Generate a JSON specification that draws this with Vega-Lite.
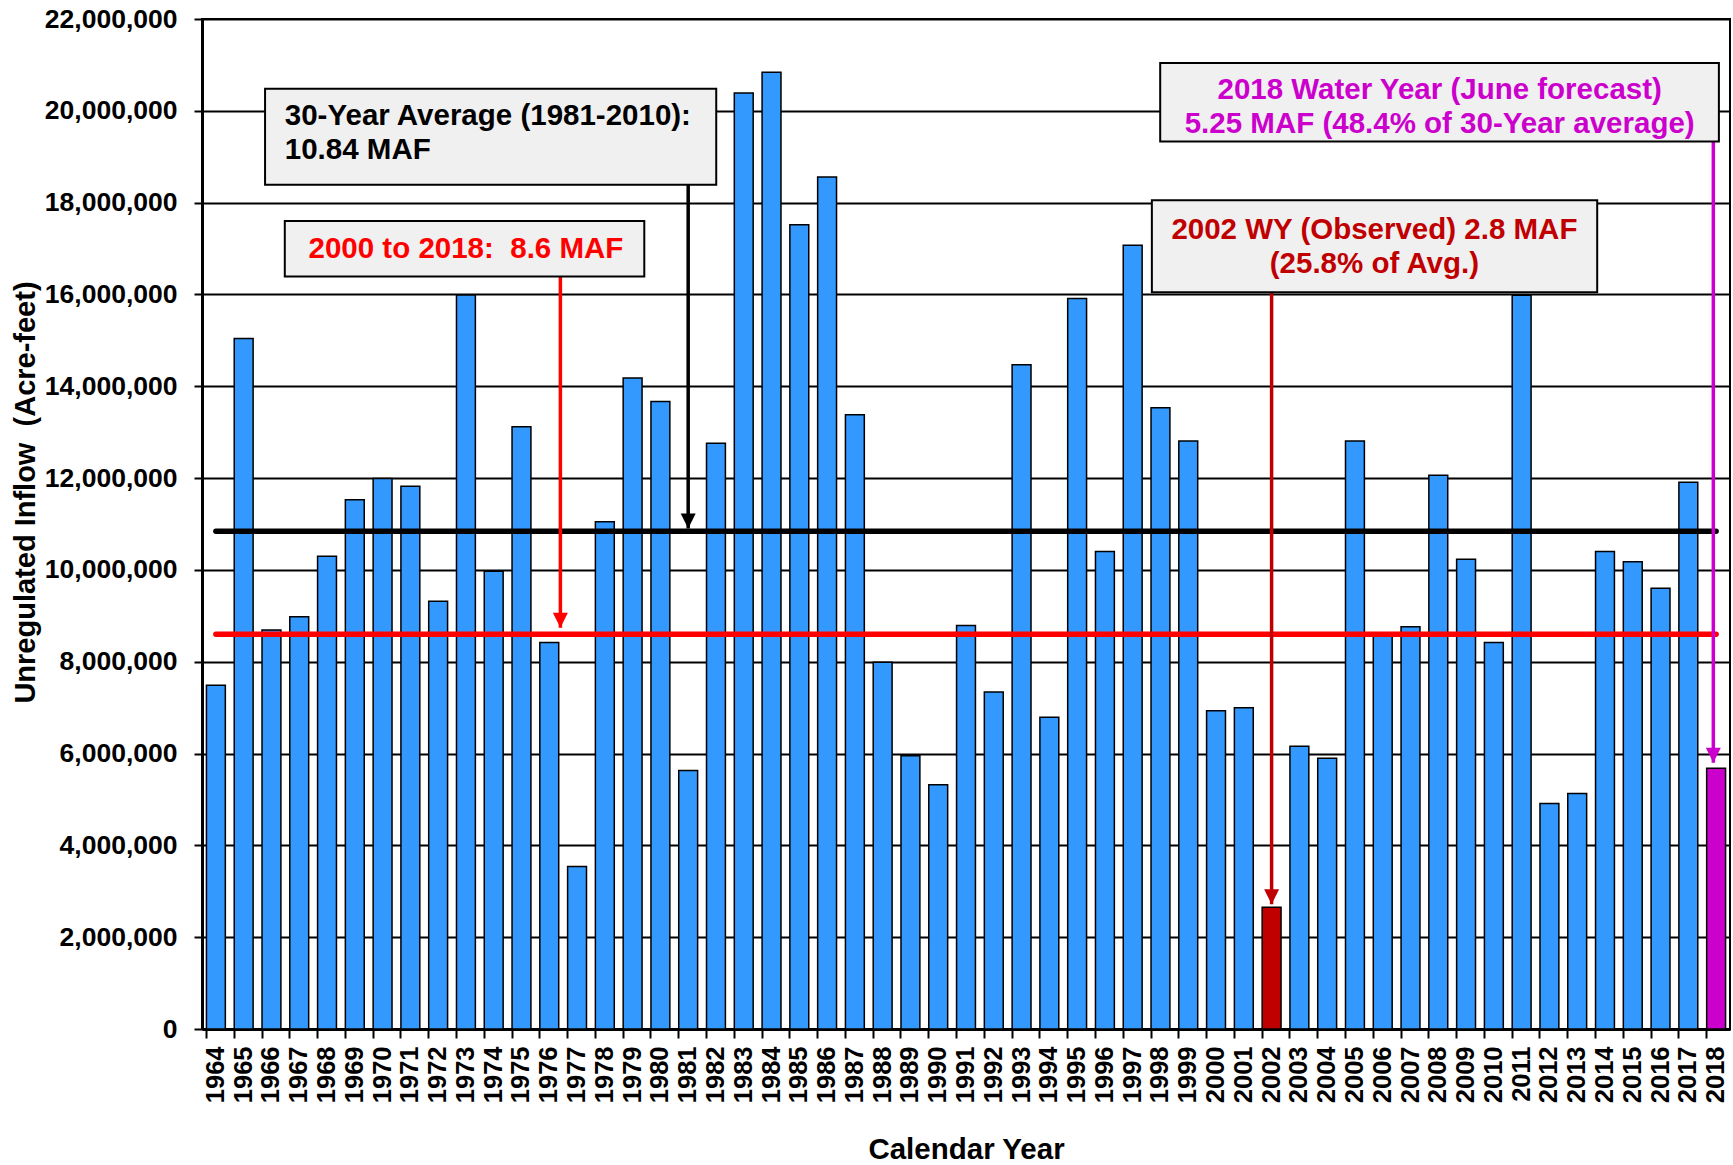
{
  "$schema": "https://vega.github.io/schema/vega-lite/v6.json",
  "width": 1528,
  "height": 1010,
  "autosize": {"type": "none"},
  "padding": {"left": 202, "top": 19, "right": 3, "bottom": 136},
  "background": "white",
  "config": {
    "font": "Liberation Sans",
    "view": {"stroke": "black", "strokeWidth": 2},
    "axis": {
      "labelFont": "Liberation Sans",
      "titleFont": "Liberation Sans",
      "labelFontWeight": "bold",
      "titleFontWeight": "bold",
      "labelColor": "black",
      "titleColor": "black",
      "domainColor": "black",
      "tickColor": "black"
    }
  },
  "datasets": {
    "flows": [
      {"year": 1964, "inflow": 7490000, "series": "Unregulated inflow"},
      {"year": 1965, "inflow": 15040000, "series": "Unregulated inflow"},
      {"year": 1966, "inflow": 8690000, "series": "Unregulated inflow"},
      {"year": 1967, "inflow": 8980000, "series": "Unregulated inflow"},
      {"year": 1968, "inflow": 10300000, "series": "Unregulated inflow"},
      {"year": 1969, "inflow": 11530000, "series": "Unregulated inflow"},
      {"year": 1970, "inflow": 11990000, "series": "Unregulated inflow"},
      {"year": 1971, "inflow": 11820000, "series": "Unregulated inflow"},
      {"year": 1972, "inflow": 9320000, "series": "Unregulated inflow"},
      {"year": 1973, "inflow": 15990000, "series": "Unregulated inflow"},
      {"year": 1974, "inflow": 9970000, "series": "Unregulated inflow"},
      {"year": 1975, "inflow": 13120000, "series": "Unregulated inflow"},
      {"year": 1976, "inflow": 8420000, "series": "Unregulated inflow"},
      {"year": 1977, "inflow": 3540000, "series": "Unregulated inflow"},
      {"year": 1978, "inflow": 11050000, "series": "Unregulated inflow"},
      {"year": 1979, "inflow": 14180000, "series": "Unregulated inflow"},
      {"year": 1980, "inflow": 13670000, "series": "Unregulated inflow"},
      {"year": 1981, "inflow": 5630000, "series": "Unregulated inflow"},
      {"year": 1982, "inflow": 12760000, "series": "Unregulated inflow"},
      {"year": 1983, "inflow": 20390000, "series": "Unregulated inflow"},
      {"year": 1984, "inflow": 20840000, "series": "Unregulated inflow"},
      {"year": 1985, "inflow": 17520000, "series": "Unregulated inflow"},
      {"year": 1986, "inflow": 18560000, "series": "Unregulated inflow"},
      {"year": 1987, "inflow": 13380000, "series": "Unregulated inflow"},
      {"year": 1988, "inflow": 7990000, "series": "Unregulated inflow"},
      {"year": 1989, "inflow": 5950000, "series": "Unregulated inflow"},
      {"year": 1990, "inflow": 5320000, "series": "Unregulated inflow"},
      {"year": 1991, "inflow": 8790000, "series": "Unregulated inflow"},
      {"year": 1992, "inflow": 7340000, "series": "Unregulated inflow"},
      {"year": 1993, "inflow": 14470000, "series": "Unregulated inflow"},
      {"year": 1994, "inflow": 6790000, "series": "Unregulated inflow"},
      {"year": 1995, "inflow": 15910000, "series": "Unregulated inflow"},
      {"year": 1996, "inflow": 10400000, "series": "Unregulated inflow"},
      {"year": 1997, "inflow": 17070000, "series": "Unregulated inflow"},
      {"year": 1998, "inflow": 13530000, "series": "Unregulated inflow"},
      {"year": 1999, "inflow": 12810000, "series": "Unregulated inflow"},
      {"year": 2000, "inflow": 6930000, "series": "Unregulated inflow"},
      {"year": 2001, "inflow": 7000000, "series": "Unregulated inflow"},
      {"year": 2002, "inflow": 2650000, "series": "2002 WY (Observed)"},
      {"year": 2003, "inflow": 6160000, "series": "Unregulated inflow"},
      {"year": 2004, "inflow": 5900000, "series": "Unregulated inflow"},
      {"year": 2005, "inflow": 12810000, "series": "Unregulated inflow"},
      {"year": 2006, "inflow": 8620000, "series": "Unregulated inflow"},
      {"year": 2007, "inflow": 8760000, "series": "Unregulated inflow"},
      {"year": 2008, "inflow": 12060000, "series": "Unregulated inflow"},
      {"year": 2009, "inflow": 10230000, "series": "Unregulated inflow"},
      {"year": 2010, "inflow": 8420000, "series": "Unregulated inflow"},
      {"year": 2011, "inflow": 15980000, "series": "Unregulated inflow"},
      {"year": 2012, "inflow": 4910000, "series": "Unregulated inflow"},
      {"year": 2013, "inflow": 5130000, "series": "Unregulated inflow"},
      {"year": 2014, "inflow": 10400000, "series": "Unregulated inflow"},
      {"year": 2015, "inflow": 10180000, "series": "Unregulated inflow"},
      {"year": 2016, "inflow": 9600000, "series": "Unregulated inflow"},
      {"year": 2017, "inflow": 11910000, "series": "Unregulated inflow"},
      {"year": 2018, "inflow": 5680000, "series": "2018 Water Year (June forecast)"}
    ],
    "averages": [
      {"series": "30-Year Average (1981-2010)", "from": 1964, "to": 2018, "inflow": 10840000},
      {"series": "2000 to 2018", "from": 1964, "to": 2018, "inflow": 8600000}
    ],
    "arrows": [
      {"series": "30-Year Average (1981-2010)", "x": 1981, "from": 18390000, "to": 10900000},
      {"series": "2000 to 2018", "x": 1976.4, "from": 16390000, "to": 8740000},
      {"series": "2002 WY (Observed)", "x": 2002, "from": 16050000, "to": 2720000},
      {"series": "2018 Water Year (June forecast)", "x": 2017.9, "from": 19330000, "to": 5800000}
    ],
    "boxes": [
      {"series": "30-Year Average (1981-2010)", "x1": 1965.77, "x2": 1982.01, "top": 20480000, "bottom": 18390000},
      {"series": "2000 to 2018", "x1": 1966.48, "x2": 1979.42, "top": 17600000, "bottom": 16390000},
      {"series": "2002 WY (Observed)", "x1": 1997.69, "x2": 2013.72, "top": 18050000, "bottom": 16050000},
      {"series": "2018 Water Year (June forecast)", "x1": 1997.99, "x2": 2018.1, "top": 21040000, "bottom": 19330000}
    ],
    "notes": [
      {"series": "30-Year Average (1981-2010)", "anchor": "left", "x": 1966.48, "y": 19880000, "label": "30-Year Average (1981-2010):\n10.84 MAF"},
      {"series": "2000 to 2018", "anchor": "center", "x": 1973.0, "y": 16990000, "label": "2000 to 2018:\u00a0 8.6 MAF"},
      {"series": "2002 WY (Observed)", "anchor": "center", "x": 2005.7, "y": 17410000, "label": "2002 WY (Observed) 2.8 MAF\n(25.8% of Avg.)"},
      {"series": "2018 Water Year (June forecast)", "anchor": "center", "x": 2008.05, "y": 20460000, "label": "2018 Water Year (June forecast)\n5.25 MAF (48.4% of 30-Year average)"}
    ]
  },
  "resolve": {"scale": {"x": "independent"}, "axis": {"x": "independent"}},
  "layer": [
    {
      "data": {"name": "flows"},
      "mark": {"type": "bar", "stroke": "black", "strokeWidth": 1.5},
      "encoding": {
        "x": {
          "field": "year",
          "type": "ordinal",
          "scale": {"paddingInner": 0.32, "paddingOuter": 0.16},
          "axis": {
            "title": "Calendar Year",
            "labelAngle": -90,
            "labelFontSize": 25.5,
            "titleFontSize": 29.5,
            "bandPosition": 0,
            "tickSize": 9,
            "tickWidth": 2,
            "domainWidth": 3,
            "labelPadding": 8,
            "titlePadding": 33,
            "grid": false
          }
        },
        "y": {
          "field": "inflow",
          "type": "quantitative",
          "scale": {"domain": [0, 22000000], "nice": false},
          "axis": {
            "title": "Unregulated Inflow\u00a0 (Acre-feet)",
            "values": [0, 2000000, 4000000, 6000000, 8000000, 10000000, 12000000, 14000000, 16000000, 18000000, 20000000, 22000000],
            "labelExpr": "format(datum.value, ',')",
            "labelFontSize": 26.5,
            "titleFontSize": 29,
            "tickSize": 8,
            "tickWidth": 2,
            "domainWidth": 3,
            "grid": true,
            "gridColor": "black",
            "gridWidth": 2,
            "gridOpacity": 1,
            "labelPadding": 17,
            "titlePadding": 4,
            "titleY": 473
          }
        },
        "color": {
          "field": "series",
          "type": "nominal",
          "scale": {
            "domain": ["Unregulated inflow", "2002 WY (Observed)", "2018 Water Year (June forecast)", "30-Year Average (1981-2010)", "2000 to 2018"],
            "range": ["#3399FF", "#C00000", "#CC00CC", "#000000", "#FF0000"]
          },
          "legend": null
        }
      }
    },
    {
      "layer": [
        {
          "data": {"name": "averages"},
          "mark": {"type": "rule", "strokeWidth": 5.5, "strokeCap": "round"},
          "encoding": {
            "x": {"field": "from", "type": "quantitative", "scale": {"domain": [1963.5, 2018.5], "nice": false, "zero": false}, "axis": null},
            "x2": {"field": "to"},
            "y": {"field": "inflow", "type": "quantitative"},
            "color": {"field": "series", "type": "nominal", "legend": null}
          }
        },
        {
          "data": {"name": "arrows"},
          "mark": {"type": "rule", "strokeWidth": 3.5},
          "encoding": {
            "x": {"field": "x", "type": "quantitative", "axis": null},
            "y": {"field": "from", "type": "quantitative"},
            "y2": {"field": "to"},
            "color": {"field": "series", "type": "nominal", "legend": null}
          }
        },
        {
          "data": {"name": "arrows"},
          "mark": {"type": "point", "filled": true, "opacity": 1, "size": 225, "shape": "M-1,-1L1,-1L0,1Z", "yOffset": -7.5},
          "encoding": {
            "x": {"field": "x", "type": "quantitative", "axis": null},
            "y": {"field": "to", "type": "quantitative"},
            "color": {"field": "series", "type": "nominal", "legend": null}
          }
        },
        {
          "data": {"name": "boxes"},
          "mark": {"type": "rect", "fill": "#F0F0F0", "stroke": "black", "strokeWidth": 2},
          "encoding": {
            "x": {"field": "x1", "type": "quantitative", "axis": null},
            "x2": {"field": "x2"},
            "y": {"field": "top", "type": "quantitative"},
            "y2": {"field": "bottom"}
          }
        },
        {
          "data": {"name": "notes"},
          "transform": [{"filter": "datum.anchor == 'left'"}],
          "mark": {"type": "text", "align": "left", "baseline": "middle", "fontSize": 29.5, "fontWeight": "bold", "lineBreak": "\n", "lineHeight": 34},
          "encoding": {
            "x": {"field": "x", "type": "quantitative", "axis": null},
            "y": {"field": "y", "type": "quantitative"},
            "text": {"field": "label"},
            "color": {"field": "series", "type": "nominal", "legend": null}
          }
        },
        {
          "data": {"name": "notes"},
          "transform": [{"filter": "datum.anchor == 'center'"}],
          "mark": {"type": "text", "align": "center", "baseline": "middle", "fontSize": 29.5, "fontWeight": "bold", "lineBreak": "\n", "lineHeight": 34},
          "encoding": {
            "x": {"field": "x", "type": "quantitative", "axis": null},
            "y": {"field": "y", "type": "quantitative"},
            "text": {"field": "label"},
            "color": {"field": "series", "type": "nominal", "legend": null}
          }
        }
      ]
    }
  ]
}
